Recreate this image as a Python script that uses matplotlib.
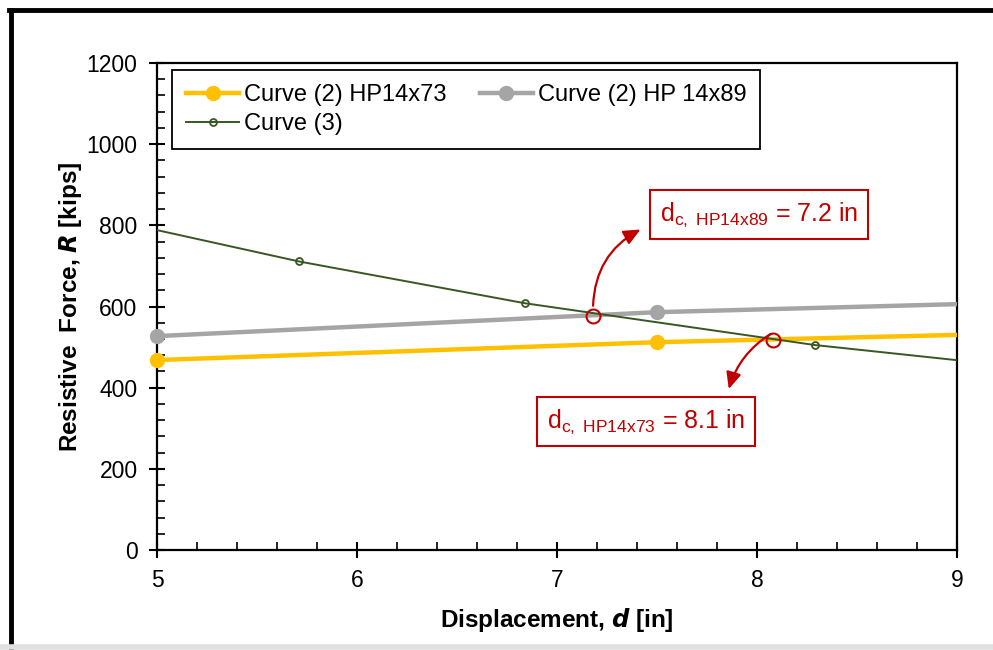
import matplotlib
matplotlib.use('Agg')
import matplotlib.pyplot as plt
from matplotlib.lines import Line2D
from matplotlib.patches import FancyArrowPatch
from matplotlib.ticker import MultipleLocator

plt.rcParams['font.family'] = ['Liberation Sans', 'DejaVu Sans']
plt.rcParams['mathtext.fontset'] = 'custom'
plt.rcParams['mathtext.rm'] = 'Liberation Sans'
plt.rcParams['mathtext.it'] = 'Liberation Sans:italic'

# data
d_c2 = [5.0, 7.5, 10.0]
r_hp73 = [468, 512, 542]
r_hp89 = [527, 586, 619]
d_c3 = [4.8, 5.71, 6.84, 8.29, 10.1]
r_c3 = [810, 711, 608, 505, 410]
# crossing points
dc_x = [7.18, 8.08]
dc_y = [577, 518]
dc_labels = [r'd$_\mathregular{c,\ HP14x89}$ = 7.2 in',
             r'd$_\mathregular{c,\ HP14x73}$ = 8.1 in']

red = '#C00000'
xmin, xmax = 5, 9

fig = plt.figure(figsize=(9.93, 6.5), dpi=100)
ax = fig.add_axes([157/993, 1-550/650, 800/993, 487/650])


def curve(xs, ys, col, lw, ms, label, **kw):
    # line is clipped to the axes, markers inside the range are not
    ax.plot(xs, ys, color=col, lw=lw, zorder=3)
    px = [x for x in xs if xmin <= x <= xmax]
    py = [y for x, y in zip(xs, ys) if xmin <= x <= xmax]
    ax.plot(px, py, ls='none', marker='o', ms=ms, color=col, clip_on=False,
            zorder=4, **kw)
    return Line2D([], [], color=col, lw=lw, marker='o', ms=ms, label=label, **kw)


h73 = curve(d_c2, r_hp73, '#FFC000', 3.2, 10, 'Curve (2) HP14x73')
h89 = curve(d_c2, r_hp89, '#A5A5A5', 3.2, 10, 'Curve (2) HP 14x89')
h3 = curve(d_c3, r_c3, '#385723', 1.4, 5, 'Curve (3)', mfc='none', mew=1.3)

ax.plot(dc_x, dc_y, ls='none', marker='o', ms=10, mfc='none', mec=red,
        mew=1.5, zorder=5)

ax.set_xlim(xmin, xmax)
ax.set_ylim(0, 1200)
ax.xaxis.set_major_locator(MultipleLocator(1))
ax.xaxis.set_minor_locator(MultipleLocator(0.2))
ax.yaxis.set_major_locator(MultipleLocator(200))
ax.yaxis.set_minor_locator(MultipleLocator(40))
ax.tick_params(which='major', direction='inout', length=12, width=1.5,
               labelsize=16.5, pad=8)
ax.tick_params(which='minor', direction='in', length=6, width=1.2)
for s in ax.spines.values():
    s.set_linewidth(1.6)

ax.set_xlabel(r'Displacement, $\mathbfit{d}$ [in]', fontsize=17.5,
              fontweight='bold', labelpad=10)
ax.set_ylabel(r'Resistive  Force, $\mathbfit{R}$ [kips]', fontsize=17.5,
              fontweight='bold', labelpad=2)

leg = ax.legend(handles=[h73, h3, h89], loc='upper left',
                bbox_to_anchor=(0.019, 0.986), ncol=2,
                fontsize=17, frameon=True, fancybox=False, framealpha=1,
                edgecolor='black', borderaxespad=0, handlelength=2.25,
                handletextpad=0.2, columnspacing=1.4, labelspacing=0.3,
                borderpad=0.6)
leg.get_frame().set_linewidth(1.3)

# callout boxes
box_x = [8.01, 7.445]
box_y = [827, 317]
for bx, by, lab in zip(box_x, box_y, dc_labels):
    ax.text(bx, by, lab, color=red, fontsize=18, ha='center', va='center',
            bbox=dict(boxstyle='square,pad=0.4', fc='white', ec=red, lw=1.5),
            zorder=6)

arrow_end = [(7.43, 793), (7.855, 390)]
arrow_rad = [-0.3, 0.2]
for x0, y0, end, rad in zip(dc_x, dc_y, arrow_end, arrow_rad):
    ax.add_patch(FancyArrowPatch((x0, y0 + 18), end,
                                 connectionstyle=f'arc3,rad={rad}',
                                 arrowstyle='-|>,head_length=10,head_width=4.5',
                                 color=red, lw=1.6, zorder=6))

# outer frame like the original chart area
fig.add_artist(Line2D([11/993, 11/993], [0, 1-10/650], color='black', lw=3.5))
fig.add_artist(Line2D([9/993, 1], [1-10/650, 1-10/650], color='black', lw=3.5))
fig.add_artist(Line2D([0, 1], [3/650, 3/650], color='#E0E0E0', lw=4))

fig.savefig('out.png', dpi=100)
